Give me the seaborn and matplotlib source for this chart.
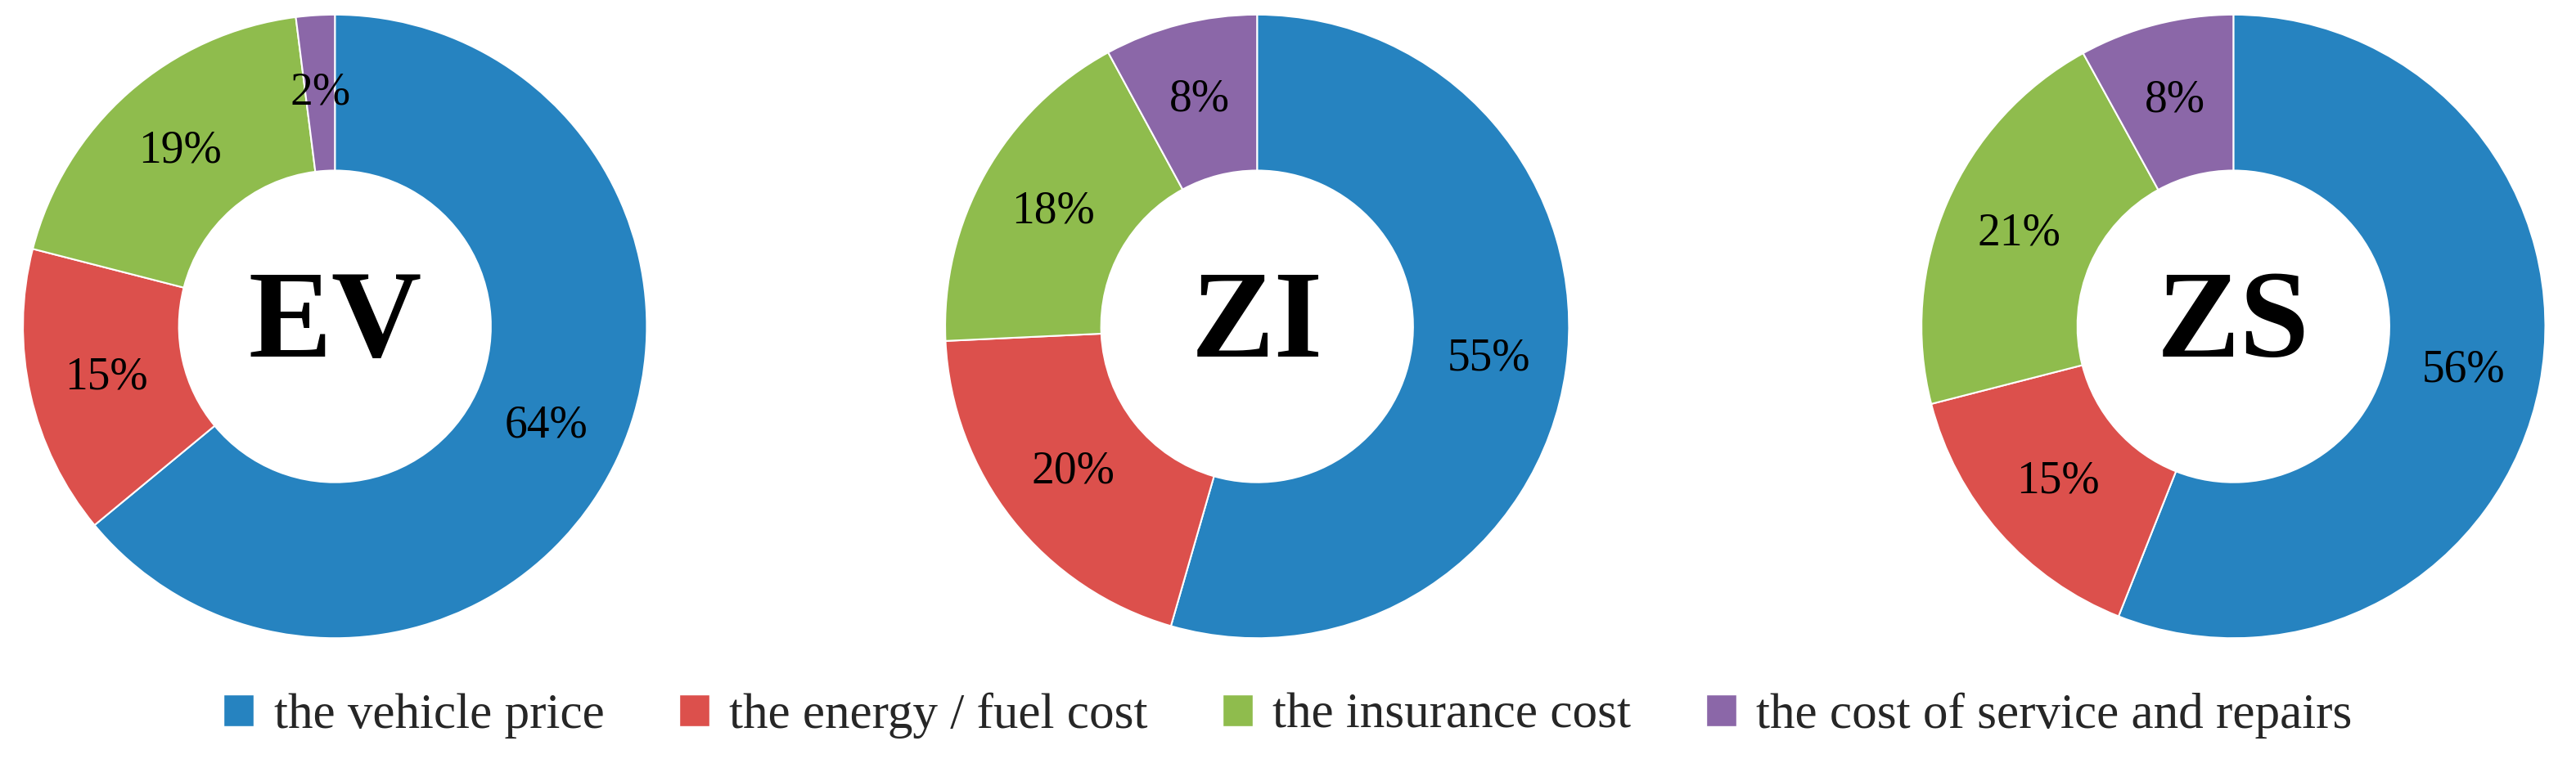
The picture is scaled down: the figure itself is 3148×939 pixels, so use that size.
import matplotlib.pyplot as plt
import seaborn as sns
from matplotlib.patches import Patch

sns.set_theme(style="white")
plt.rcParams['font.family'] = ['Liberation Serif', 'DejaVu Serif']

categories = ["the vehicle price", "the energy / fuel cost",
              "the insurance cost", "the cost of service and repairs"]
vehicles = ["EV", "ZI", "ZS"]
ev_shares = [64, 15, 19, 2]
zi_shares = [55, 20, 18, 8]
zs_shares = [56, 15, 21, 8]
colors = ["#2683c0", "#dc504c", "#8fbc4d", "#8b67a8"]

fig = plt.figure(figsize=(31.48, 9.39), dpi=100)
centers = [0.13, 0.488, 0.867]
h = 0.82
w = h * 9.39 / 31.48

for cx, name, vals in zip(centers, vehicles, [ev_shares, zi_shares, zs_shares]):
    ax = fig.add_axes([cx - w / 2, 0.165, w, h])
    wedges, _ = ax.pie(vals, colors=colors, startangle=90, counterclock=False,
                       wedgeprops=dict(width=0.5, edgecolor="white", linewidth=1.5))
    import numpy as np
    for wd, v in zip(wedges, vals):
        ang = np.deg2rad((wd.theta1 + wd.theta2) / 2)
        ax.text(0.75 * np.cos(ang), 0.75 * np.sin(ang), f"{v}%",
                ha="center", va="center", fontsize=40, color="black")
    ax.text(0, 0, name, ha="center", va="center", fontsize=110, fontweight="bold",
            color="black")
    ax.set_xlim(-1.01, 1.01)
    ax.set_ylim(-1.01, 1.01)
    ax.set_aspect("equal")

handles = [Patch(facecolor=c, label=l) for c, l in zip(colors, categories)]
fig.legend(handles=handles, loc="lower center", ncol=4, fontsize=44,
           frameon=False, bbox_to_anchor=(0.5, -0.02), handlelength=0.6,
           handleheight=0.6, columnspacing=1.5, handletextpad=0.4)

plt.savefig("out.png", dpi=100)
